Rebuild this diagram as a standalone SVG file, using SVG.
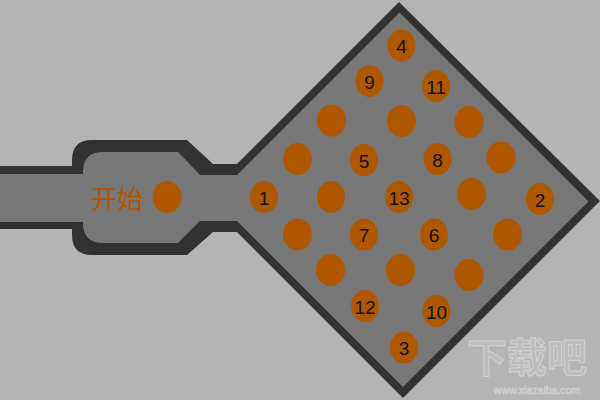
<svg xmlns="http://www.w3.org/2000/svg" width="600" height="400" viewBox="0 0 600 400">
<style>
.dot{fill:#b05800}
.num{font-family:"Liberation Sans",Arial,sans-serif;font-size:19px;fill:#111;text-anchor:middle;dominant-baseline:central}
.wm{font-family:"Noto Sans CJK SC",sans-serif;fill:#bcbcbc;stroke:#d2d2d2;stroke-width:1}
</style>
<rect width="600" height="400" fill="#b4b4b4"/>
<g id="board">
<path d="M0,166 H72 V160 Q72,140 92,140 H187 L213,164 H237 L399,2 L600,201 L403,398 L237,232 H213 L187,255 H92 Q72,255 72,235 V229 H0 Z" fill="#323232"/>
<path d="M0,174 H83 V172 Q83,152 103,152 H178 L200,175 H237 L399.5,12.5 L588.5,201.5 L403,387 L237,221 H200 L178,243 H103 Q83,243 83,223 V222 H0 Z" fill="#787878"/>
</g>
<g id="start">
<text x="117" y="197" font-family="'Noto Sans CJK SC',sans-serif" font-size="26" fill="#b05800" text-anchor="middle" dominant-baseline="central">开始</text>
<ellipse class="dot" cx="167" cy="197" rx="14.5" ry="16"/>
</g>
<g id="n1"><ellipse class="dot" cx="264" cy="197" rx="14" ry="16"/><text class="num" x="264" y="198">1</text></g>
<g id="b1"><ellipse class="dot" cx="331" cy="197" rx="14" ry="16"/></g>
<g id="n13"><ellipse class="dot" cx="399" cy="197" rx="14" ry="16"/><text class="num" x="399" y="198">13</text></g>
<g id="b2"><ellipse class="dot" cx="471.5" cy="194" rx="14.5" ry="16"/></g>
<g id="n2"><ellipse class="dot" cx="540" cy="199" rx="14" ry="16"/><text class="num" x="540" y="200">2</text></g>
<g id="n4"><ellipse class="dot" cx="401.5" cy="45.5" rx="14" ry="16"/><text class="num" x="401.5" y="46">4</text></g>
<g id="n9"><ellipse class="dot" cx="369.5" cy="81" rx="14" ry="16"/><text class="num" x="369.5" y="82">9</text></g>
<g id="n11"><ellipse class="dot" cx="436" cy="86" rx="14" ry="16"/><text class="num" x="436" y="87">11</text></g>
<g id="b3"><ellipse class="dot" cx="331.5" cy="120.5" rx="14.5" ry="16"/></g>
<g id="b4"><ellipse class="dot" cx="401.5" cy="121" rx="14.5" ry="16"/></g>
<g id="b5"><ellipse class="dot" cx="469" cy="122" rx="14.5" ry="16"/></g>
<g id="b6"><ellipse class="dot" cx="297.5" cy="159" rx="14.5" ry="16"/></g>
<g id="n5"><ellipse class="dot" cx="364" cy="160" rx="14" ry="16"/><text class="num" x="364" y="161">5</text></g>
<g id="n8"><ellipse class="dot" cx="437.5" cy="159" rx="14" ry="16"/><text class="num" x="437.5" y="160">8</text></g>
<g id="b7"><ellipse class="dot" cx="501" cy="157.5" rx="14.5" ry="16"/></g>
<g id="b8"><ellipse class="dot" cx="297.5" cy="234.5" rx="14.5" ry="16"/></g>
<g id="n7"><ellipse class="dot" cx="364" cy="234.5" rx="14" ry="16"/><text class="num" x="364" y="235.5">7</text></g>
<g id="n6"><ellipse class="dot" cx="434" cy="234.5" rx="14" ry="16"/><text class="num" x="434" y="235.5">6</text></g>
<g id="b9"><ellipse class="dot" cx="507.5" cy="234.5" rx="14.5" ry="16"/></g>
<g id="b10"><ellipse class="dot" cx="330.5" cy="270" rx="14.5" ry="16"/></g>
<g id="b11"><ellipse class="dot" cx="400.5" cy="270" rx="14.5" ry="16"/></g>
<g id="b12"><ellipse class="dot" cx="469" cy="275" rx="14.5" ry="16"/></g>
<g id="n12"><ellipse class="dot" cx="365" cy="306" rx="14" ry="16"/><text class="num" x="365" y="307">12</text></g>
<g id="n10"><ellipse class="dot" cx="436.5" cy="311" rx="14" ry="16"/><text class="num" x="436.5" y="312">10</text></g>
<g id="n3"><ellipse class="dot" cx="404" cy="347.5" rx="14" ry="16"/><text class="num" x="404" y="348.5">3</text></g>
<g id="watermark">
<text class="wm" x="527" y="372" font-size="40" text-anchor="middle" font-weight="bold">下载吧</text>
<text x="537" y="394" font-family="'Liberation Sans',sans-serif" font-size="10.5" fill="#bcbcbc" stroke="#d2d2d2" stroke-width="0.6" text-anchor="middle">www.xiazaiba.com</text>
</g>
</svg>
